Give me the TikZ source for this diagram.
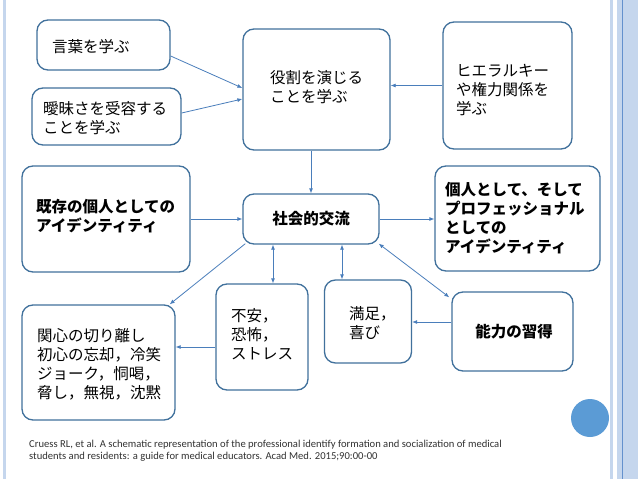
\documentclass[tikz,border=0pt]{standalone}
\usepackage{fontspec}
\newfontfamily\jp{Noto Sans CJK JP}
\newfontfamily\citefont{Carlito}
\usetikzlibrary{arrows.meta}
\definecolor{boxc}{RGB}{65,113,156}
\definecolor{arrc}{RGB}{74,126,187}
\definecolor{panel}{RGB}{197,214,237}
\definecolor{paneldark}{RGB}{100,145,205}
\definecolor{dotc}{RGB}{91,155,213}
\begin{document}
\begin{tikzpicture}[x=1pt,y=-1pt,
  box/.style={draw=boxc,line width=1.3pt,rounded corners=11pt,fill=white,inner sep=0pt},
  txt/.style={font=\jp\fontsize{15.5}{19}\selectfont,align=left,inner sep=0pt,anchor=west,text=black},
  btxt/.style={txt,font=\jp\bfseries\fontsize{15.5}{19}\selectfont},
  arr/.style={draw=arrc,line width=0.8pt,-{Latex[length=5pt,width=4pt]}},
  darr/.style={draw=arrc,line width=0.8pt,{Latex[length=5pt,width=4pt]}-{Latex[length=5pt,width=4pt]}}]
\useasboundingbox (0,0) rectangle (638,479);
\fill[white] (0,0) rectangle (638,479);
% slide frame
\fill[panel] (3,0) rectangle (6,479);
\fill[panel] (610,0) rectangle (613,479);
\fill[panel] (617,0) rectangle (638,479);
\draw[paneldark,line width=1pt] (622,0) -- (622,479);
% boxes
\node[box,minimum width=133pt,minimum height=50pt] (b1) at (103.5,45) {};
\node[box,minimum width=149pt,minimum height=57pt] (b2) at (106.5,116.5) {};
\node[box,minimum width=147pt,minimum height=121pt] (b3) at (316.5,89.5) {};
\node[box,minimum width=129pt,minimum height=127pt] (b4) at (507.5,85.5) {};
\node[box,minimum width=168pt,minimum height=106pt] (b5) at (106,219) {};
\node[box,minimum width=136pt,minimum height=50pt] (b6) at (311,219) {};
\node[box,minimum width=165pt,minimum height=105pt] (b7) at (517.5,218.5) {};
\node[box,minimum width=153pt,minimum height=115pt] (b8) at (98.5,362.5) {};
\node[box,minimum width=92pt,minimum height=106pt] (b9) at (262,337) {};
\node[box,minimum width=87pt,minimum height=83pt] (b10) at (368,321.5) {};
\node[box,minimum width=121pt,minimum height=79pt] (b11) at (512.5,331.5) {};
\node[circle,fill=dotc,minimum size=38pt,inner sep=0pt] (dot) at (590,418) {};
% texts
\node[txt] (t1) at (52,47) {言葉を学ぶ};
\node[txt] (t2) at (43,118.5) {曖昧さを受容する\\ことを学ぶ};
\node[txt] (t3) at (270,87.5) {役割を演じる\\ことを学ぶ};
\node[txt] (t4) at (456,90) {ヒエラルキー\\や権力関係を\\学ぶ};
\node[btxt] (t5) at (36,216) {既存の個人としての\\アイデンティティ};
\node[btxt,anchor=center] (t6) at (311,219) {社会的交流};
\node[btxt] (t7) at (445,218.5) {個人として、そして\\プロフェッショナル\\としての\\アイデンティティ};
\node[txt] (t8) at (37,364) {関心の切り離し\\初心の忘却，冷笑\\ジョーク，恫喝，\\脅し，無視，沈黙};
\node[txt] (t9) at (231,334.5) {不安，\\恐怖，\\ストレス};
\node[txt] (t10) at (349,323) {満足，\\喜び};
\node[btxt,anchor=center] (t11) at (514,332) {能力の習得};
\node[font=\citefont\fontsize{10.6}{12.2}\selectfont,align=left,anchor=west,inner sep=0pt,text={rgb,255:red,50;green,50;blue,50}] (cit) at (29,451)
 {Cruess RL, et al. A schematic representation of the professional identify formation and socialization of medical\\students and residents: a guide for medical educators. Acad Med. 2015;90:00-00};
% connector end points
\coordinate (c9) at ([yshift=-10pt]b9.west);
\coordinate (c11) at ([yshift=9.5pt]b11.west);
% connectors
\draw[arr] ([yshift=-11pt]b1.east) -- ([yshift=1.5pt]b3.west);
\draw[arr] ([yshift=3.5pt]b2.east) -- ([yshift=-9.5pt]b3.west);
\draw[arr] (b4.west) -- (b3.east |- b4.west);
\draw[arr] (b6.north |- b3.south) -- (b6.north);
\draw[arr] (b5.east) -- (b6.west);
\draw[arr] (b6.east) -- (b7.west |- b6.east);
\draw[arr] ([xshift=3pt,yshift=1pt]b6.south west) -- ([xshift=-6pt]b8.north east);
\draw[darr] ([xshift=-38pt]b6.south) -- ([xshift=-38pt]b6.south |- b9.north);
\draw[darr] ([xshift=31pt]b6.south) -- ([xshift=31pt]b6.south |- b10.north);
\draw[darr] ([xshift=-1pt,yshift=1pt]b6.south east) -- ([xshift=-2pt,yshift=-6pt]b11.north west);
\draw[arr] (c9) -- (b8.east |- c9);
\draw[arr] (c11) -- (b10.east |- c11);
\end{tikzpicture}
\end{document}
